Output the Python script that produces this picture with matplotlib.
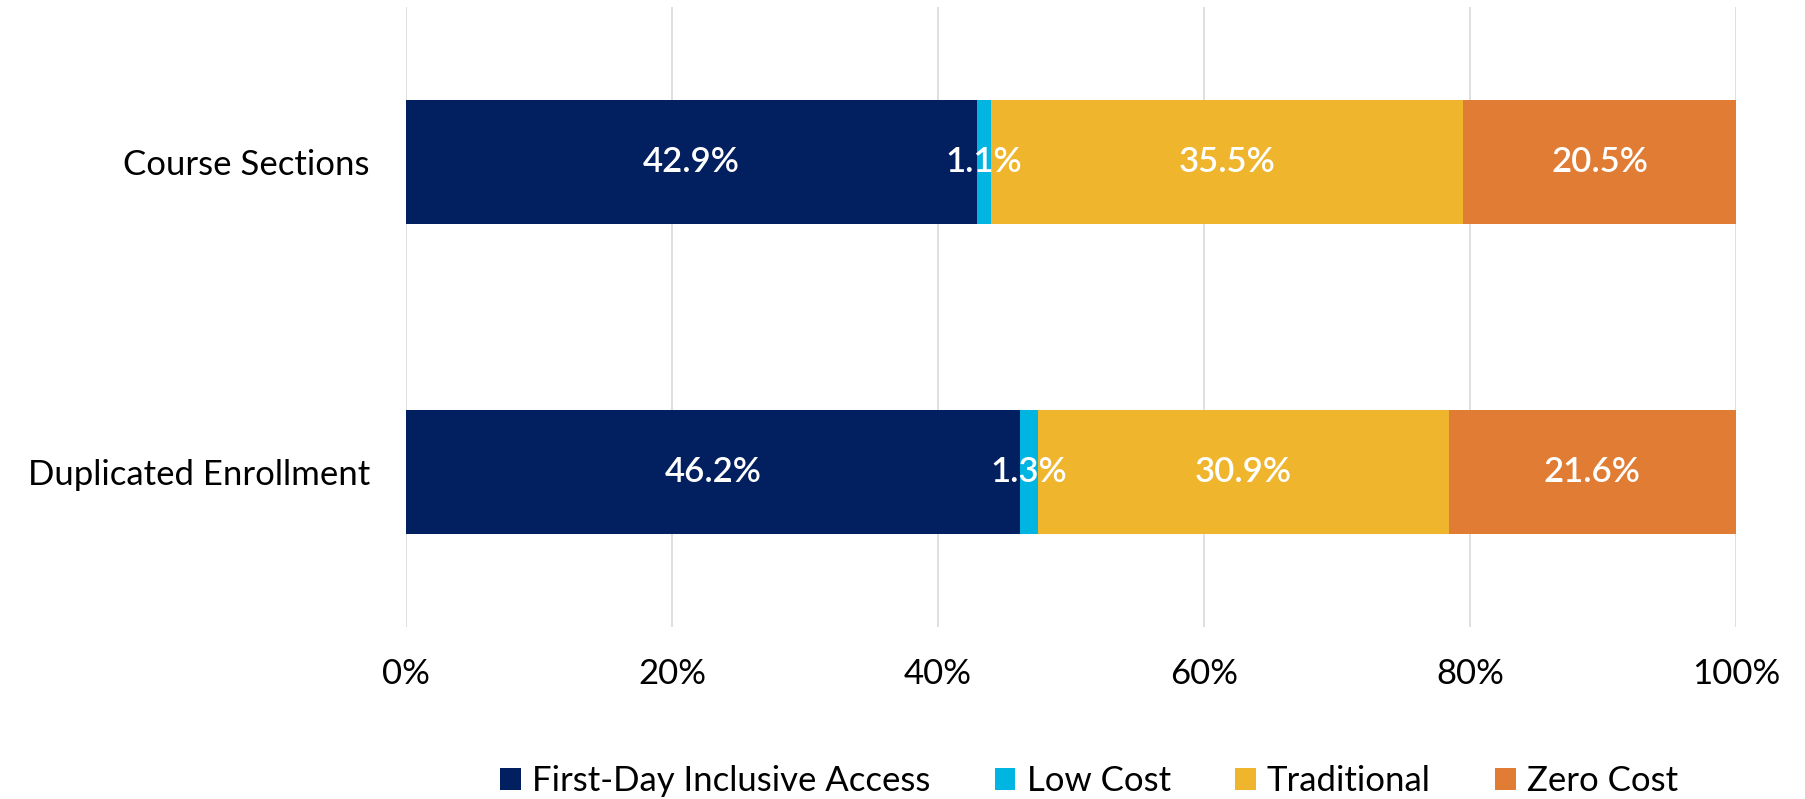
import matplotlib
matplotlib.use("Agg")
import matplotlib.pyplot as plt
import numpy as np

categories = ["Course Sections", "Duplicated Enrollment"]
series_names = ["First-Day Inclusive Access", "Low Cost", "Traditional", "Zero Cost"]
first_day = [42.9, 46.2]
low_cost = [1.1, 1.3]
traditional = [35.5, 30.9]
zero_cost = [20.5, 21.6]
colors = ["#022060", "#00B5E2", "#EFB52D", "#E07C33"]
xticks = [0, 20, 40, 60, 80, 100]
xtick_labels = ["0%", "20%", "40%", "60%", "80%", "100%"]

plt.rcParams['font.family'] = ['Lato', 'DejaVu Sans']

fig = plt.figure(figsize=(18.05, 7.99), dpi=100)
ax = fig.add_axes([406/1805, 1 - 627/799, 1330/1805, 620/799])

series = [first_day, low_cost, traditional, zero_cost]
y = np.arange(len(categories))
left = np.zeros(len(categories))
for name, vals, c in zip(series_names, series, colors):
    vals = np.array(vals)
    ax.barh(y, vals, left=left, height=0.4, color=c, label=name, zorder=3)
    for yi, l, v in zip(y, left, vals):
        ax.text(l + v / 2, yi, f"{v:.1f}%", ha="center", va="center",
                color="white", fontsize=25, fontweight="semibold", zorder=4)
    left += vals

ax.set_xlim(0, 100)
ax.set_ylim(1.5, -0.5)
ax.set_yticks(y)
ax.set_yticklabels(categories, fontsize=25)
ax.set_xticks(xticks)
ax.set_xticklabels(xtick_labels, fontsize=25)
ax.tick_params(axis="y", length=0, pad=26)
ax.tick_params(axis="x", length=0, pad=22)
ax.grid(axis="x", color="#D9D9D9", linewidth=1.2, zorder=0)
for s in ax.spines.values():
    s.set_visible(False)

handles, labels = ax.get_legend_handles_labels()
fig.legend(handles, labels, loc="center", bbox_to_anchor=(1089/1805, 1 - 781/799),
           ncol=4, frameon=False, fontsize=25, handlelength=0.6, handleheight=0.6,
           handletextpad=0.32, columnspacing=1.85)

fig.savefig("out.png", dpi=100)
